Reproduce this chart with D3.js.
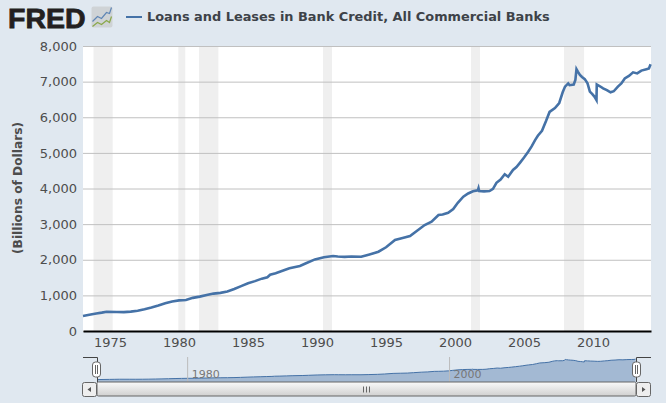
<!DOCTYPE html>
<html>
<head>
<meta charset="utf-8">
<script src="https://cdn.jsdelivr.net/npm/d3@7"></script>
<style>
html, body { margin: 0; padding: 0; background: #e0e8f0; }
svg { display: block; }
text { font-family: "DejaVu Sans", sans-serif; }
</style>
</head>
<body>
<div id="chart"></div>
<script>
// values
var title = "Loans and Leases in Bank Credit, All Commercial Banks";
var yLabel = "(Billions of Dollars)";
var years = [1973.04,1973.5,1974,1974.4,1974.75,1975.5,1976,1976.5,1977,1977.5,1978,1978.5,1979,1979.5,1980,1980.5,1981,1981.5,1982,1982.5,1983,1983.5,1984,1984.5,1985,1985.5,1986,1986.4,1986.6,1987,1987.5,1988,1988.76,1989.2,1989.85,1990.5,1991.16,1991.5,1992,1992.5,1993.2,1993.8,1994.45,1995,1995.65,1996.2,1996.74,1997.2,1997.8,1998.3,1998.8,1999.1,1999.5,1999.87,2000.2,2000.6,2000.95,2001.3,2001.65,2001.7,2001.75,2002.1,2002.5,2002.75,2003,2003.3,2003.6,2003.85,2004.2,2004.45,2004.7,2005,2005.3,2005.55,2005.8,2006,2006.3,2006.6,2006.85,2007.24,2007.55,2007.8,2007.97,2008.2,2008.3,2008.6,2008.72,2008.8,2008.9,2009.05,2009.2,2009.4,2009.6,2009.77,2009.95,2010.1,2010.25,2010.27,2010.5,2010.73,2011,2011.27,2011.5,2011.8,2012.05,2012.3,2012.6,2012.9,2013.2,2013.5,2013.87,2014.05,2014.17];
var loans = [420,455,490,515,540,535,530,545,570,610,660,715,780,830,860,870,930,965,1010,1050,1070,1110,1180,1260,1340,1400,1470,1510,1580,1620,1690,1760,1825,1900,2010,2070,2105,2090,2080,2090,2085,2150,2225,2350,2555,2610,2665,2800,2975,3070,3255,3270,3320,3424,3600,3770,3860,3920,3950,4010,3930,3920,3930,3990,4160,4250,4400,4330,4520,4600,4720,4870,5030,5180,5360,5480,5620,5900,6150,6260,6400,6700,6860,6950,6900,6920,7050,7350,7280,7190,7130,7070,6950,6720,6650,6580,6480,6920,6870,6810,6760,6700,6730,6860,6950,7090,7160,7260,7230,7310,7350,7370,7490];
var recessionStart = [1973.8,1979.95,1981.45,1990.43,2001.16,2007.9];
var recessionEnd = [1975.19,1980.45,1982.85,1991.08,2001.81,2009.35];
var yTicks = [0,1000,2000,3000,4000,5000,6000,7000,8000];
var xTicks = [1975,1980,1985,1990,1995,2000,2005,2010];
var navTicks = [1980,2000];

var width = 666, height = 403;
var margin = {top: 46, right: 15, bottom: 72, left: 83};
var w = width - margin.left - margin.right,
    h = height - margin.top - margin.bottom;

var svg = d3.select("#chart").append("svg")
  .attr("width", width)
  .attr("height", height);

// header
svg.append("text")
  .attr("x", 8).attr("y", 27.5)
  .style("font-family", "Liberation Sans")
  .style("font-weight", "bold")
  .style("font-size", "28.5px")
  .style("fill", "#231f20")
  .style("stroke", "#231f20")
  .style("stroke-width", 0.8)
  .text("FRED");

var icon = svg.append("g").attr("transform", "translate(91.5,6.5)");
icon.append("rect").attr("width", 21).attr("height", 21).attr("rx", 2).style("fill", "#cfd3d6");
icon.append("path").attr("d", "M1,15 L6,10 L10,12 L15,6 L18,7 L20,1").style("fill", "none").style("stroke", "#5f86b5").style("stroke-width", 1.2);
icon.append("path").attr("d", "M1,20 L6,16 L10,18 L15,14 L18,16 L20,10").style("fill", "none").style("stroke", "#8aa84a").style("stroke-width", 1.2);

svg.append("line")
  .attr("x1", 126).attr("x2", 142).attr("y1", 17).attr("y2", 17)
  .style("stroke", "#4572a7").style("stroke-width", 2);

svg.append("text")
  .attr("x", 147).attr("y", 20.5)
  .style("font-weight", "bold")
  .style("font-size", "12.9px")
  .style("fill", "#3d4248")
  .text(title);

// main plot
var xScale = d3.scaleLinear().domain([1973.04, 2014.2]).range([0, w]);
var yScale = d3.scaleLinear().domain([0, 8000]).range([h, 0]);

var plot = svg.append("g")
  .attr("transform", "translate(" + margin.left + "," + margin.top + ")");

plot.append("rect").attr("width", w).attr("height", h).style("fill", "#fff");

plot.selectAll(".recession")
  .data(recessionStart)
  .enter()
  .append("rect")
    .attr("class", "recession")
    .attr("x", function (d) { return xScale(d); })
    .attr("width", function (d, i) { return xScale(recessionEnd[i]) - xScale(d); })
    .attr("y", 0)
    .attr("height", h)
    .style("fill", "#efefef");

var yAxis = plot.append("g")
  .call(d3.axisLeft(yScale).tickValues(yTicks).tickSize(-w).tickPadding(6).tickFormat(d3.format(",")));
yAxis.select(".domain").remove();
yAxis.selectAll("line").style("stroke", "#c0c0c0");
yAxis.selectAll("text").style("font-size", "13px").style("fill", "#4d4d4d").style("font-family", "DejaVu Sans");

var line = d3.line()
  .x(function (d, i) { return xScale(years[i]); })
  .y(function (d) { return yScale(d); });

plot.append("path")
  .datum(loans)
  .attr("d", line)
  .style("fill", "none")
  .style("stroke", "#4572a7")
  .style("stroke-width", 2.6);

var xAxis = plot.append("g")
  .attr("transform", "translate(0," + h + ")")
  .call(d3.axisBottom(xScale).tickValues(xTicks).tickSize(0).tickPadding(7).tickFormat(d3.format("d")));
xAxis.select(".domain").style("stroke", "#000").style("stroke-width", 2);
xAxis.selectAll("text").style("font-size", "13px").style("fill", "#4d4d4d").style("font-family", "DejaVu Sans");

// y label
svg.append("text")
  .attr("text-anchor", "middle")
  .attr("transform", "translate(22,188) rotate(-90)")
  .style("font-weight", "bold")
  .style("font-size", "12.2px")
  .style("fill", "#4d4d4d")
  .text(yLabel);

// navigator
var navX = d3.scaleLinear().domain([1973.04, 2014.2]).range([97, 636]);
var navY = d3.scaleLinear().domain([0, 8000]).range([380.8, 357.6]);
var navBase = 382;

svg.append("path")
  .datum(loans)
  .attr("d", d3.area()
    .x(function (d, i) { return navX(years[i]); })
    .y0(navBase)
    .y1(function (d) { return navY(d); }))
  .style("fill", "#a3b9d3");
svg.append("path")
  .datum(loans)
  .attr("d", d3.line()
    .x(function (d, i) { return navX(years[i]); })
    .y(function (d) { return navY(d); }))
  .style("fill", "none")
  .style("stroke", "#4572a7")
  .style("stroke-width", 1);

svg.selectAll(".navtick")
  .data(navTicks)
  .enter()
  .append("line")
    .attr("class", "navtick")
    .attr("x1", function (d) { return navX(d) - 0.5; })
    .attr("x2", function (d) { return navX(d) - 0.5; })
    .attr("y1", 357)
    .attr("y2", 382)
    .style("stroke", "#bbb");
svg.selectAll(".navlabel")
  .data(navTicks)
  .enter()
  .append("text")
    .attr("class", "navlabel")
    .attr("x", function (d) { return navX(d) + 3.5; })
    .attr("y", 378)
    .style("font-size", "11px")
    .style("fill", "#777")
    .text(function (d) { return d; });

// outline and handles
svg.append("path")
  .attr("d", "M83,357.5 H97.5 V382 M636.5,382 V357.5 H651")
  .style("fill", "none").style("stroke", "#444");
[96.5, 636.5].forEach(function (x) {
  svg.append("rect").attr("x", x - 4).attr("y", 362).attr("width", 8).attr("height", 15).attr("rx", 3)
    .style("fill", "#fff").style("stroke", "#666");
  svg.append("path").attr("d", "M" + (x - 1) + ",365 V374 M" + (x + 1) + ",365 V374")
    .style("stroke", "#666");
});

// scrollbar
var grad = svg.append("defs").append("linearGradient")
  .attr("id", "bar").attr("x1", 0).attr("x2", 0).attr("y1", 0).attr("y2", 1);
grad.append("stop").attr("offset", "0%").attr("stop-color", "#fafafa");
grad.append("stop").attr("offset", "100%").attr("stop-color", "#d0d0d0");

svg.append("rect").attr("x", 97).attr("y", 382).attr("width", 539).attr("height", 14).attr("rx", 1.5)
  .style("fill", "url(#bar)").style("stroke", "#666");
svg.append("rect").attr("x", 82.5).attr("y", 382.5).attr("width", 14).attr("height", 14).attr("rx", 2)
  .style("fill", "#eee").style("stroke", "#666");
svg.append("rect").attr("x", 636.5).attr("y", 382.5).attr("width", 14).attr("height", 14).attr("rx", 2)
  .style("fill", "#eee").style("stroke", "#666");
svg.append("path").attr("d", "M91,387 L87.5,389.5 L91,392 Z").style("fill", "#555");
svg.append("path").attr("d", "M642,387 L645.5,389.5 L642,392 Z").style("fill", "#555");
svg.append("path").attr("d", "M363.5,386.5 V392.5 M366.5,386.5 V392.5 M369.5,386.5 V392.5").style("stroke", "#666");
</script>
</body>
</html>
